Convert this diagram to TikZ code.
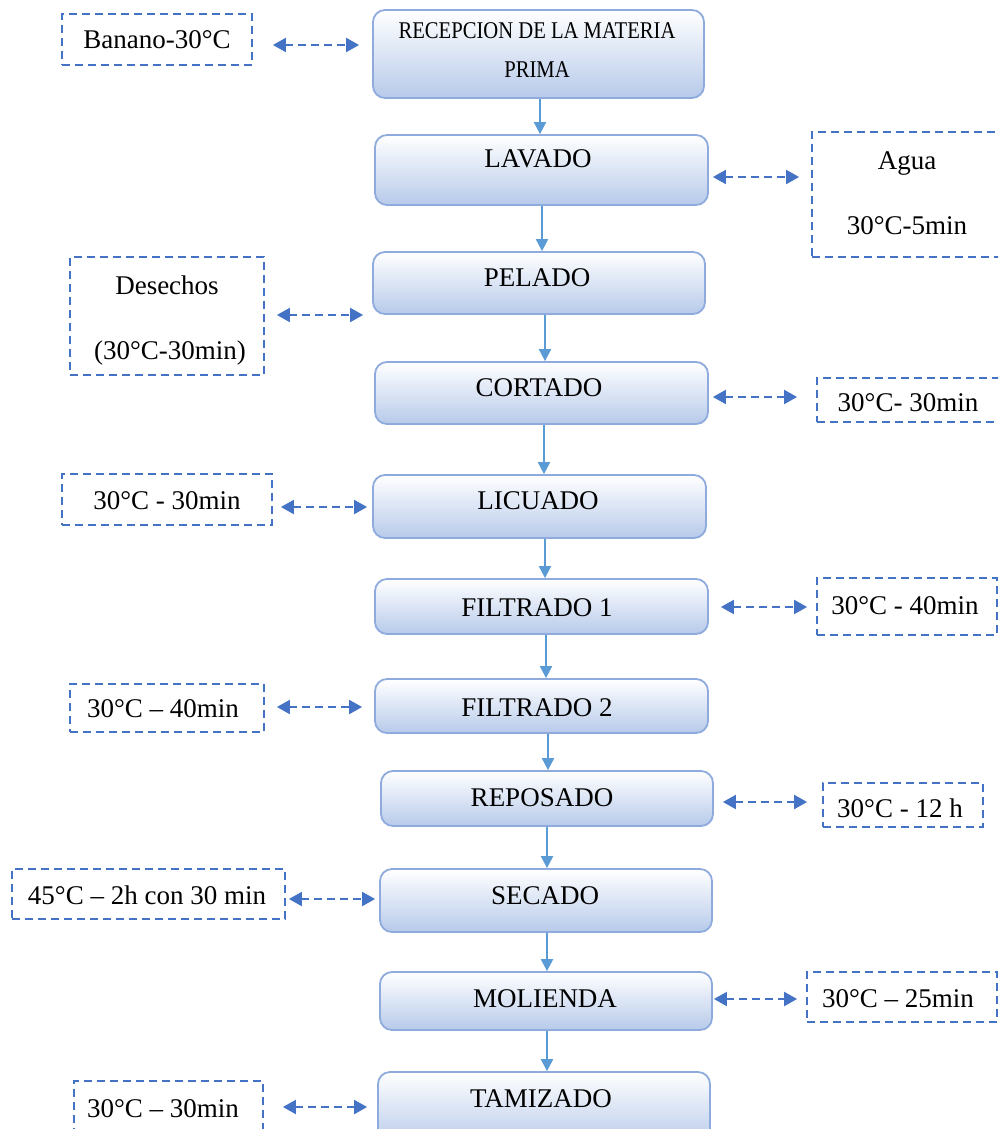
\documentclass[tikz,border=0pt]{standalone}
\usepackage{fontspec}
\setmainfont{Liberation Serif}
\usetikzlibrary{arrows.meta}
\definecolor{boxbot}{RGB}{183,202,234}
\definecolor{boxborder}{RGB}{143,170,220}
\definecolor{dashblue}{RGB}{68,114,196}
\definecolor{flowblue}{RGB}{91,155,213}
\newcommand\mkproc[5]{\node[proc, minimum width={#4-#2}, minimum height={#5-#3}] (#1) at ({(#2+#4)/2},{(#3+#5)/2}) {};}
\newcommand\mkside[5]{\node[sidebox, minimum width={#4-#2}, minimum height={#5-#3}] (#1) at ({(#2+#4)/2},{(#3+#5)/2}) {};}
\newcommand\mktext[4]{\node[lbl] (#1) at (#2,{#3+9}) {#4};}
\begin{document}
\begin{tikzpicture}[x=1pt,y=-1pt,
  proc/.style={draw=boxborder, line width=1.8pt, rounded corners=12pt, top color=white, bottom color=boxbot, inner sep=0pt},
  sidebox/.style={draw=dashblue, line width=1.8pt, dash pattern=on 8pt off 5pt, fill=white, inner sep=0pt},
  lbl/.style={anchor=base, inner sep=0pt, font=\fontsize{27}{30}\selectfont},
  smalllbl/.style={anchor=base, inner sep=0pt, font=\fontsize{24}{28}\selectfont},
  flow/.style={draw=flowblue, line width=2pt, -{Triangle[length=12pt,width=12pt]}},
  dbl/.style={draw=dashblue, line width=2pt, dash pattern=on 8pt off 5pt, {Triangle[length=13pt,width=14pt]}-{Triangle[length=13pt,width=14pt]}}]
\useasboundingbox (0,0) rectangle (998,1129);
\clip (0,0) rectangle (998,1129);
\fill[white] (0,0) rectangle (998,1129);

% process boxes
\mkproc{p1}{373}{10}{704}{98}
\mkproc{p2}{375}{135}{708}{205}
\mkproc{p3}{373}{252}{705}{314}
\mkproc{p4}{375}{362}{708}{424}
\mkproc{p5}{373}{475}{706}{538}
\mkproc{p6}{375}{579}{708}{634}
\mkproc{p7}{375}{679}{708}{733}
\mkproc{p8}{381}{771}{713}{826}
\mkproc{p9}{380}{869}{712}{932}
\mkproc{p10}{380}{972}{712}{1030}
\mkproc{p11}{378}{1072}{710}{1145}

% side boxes
\mkside{s1}{62}{14}{252}{65}
\mkside{s2}{812}{132}{1010}{257}
\mkside{s3}{70}{257}{264}{375}
\mkside{s4}{817}{378}{1010}{422}
\mkside{s5}{62}{474}{272}{525}
\mkside{s6}{817}{578}{997}{635}
\mkside{s7}{70}{684}{264}{732}
\mkside{s8}{823}{783}{983}{827}
\mkside{s9}{12}{869}{285}{919}
\mkside{s10}{807}{972}{997}{1022}
\mkside{s11}{74}{1081}{263}{1150}

% process texts
\node[smalllbl] (t1a) at (537,{31+8}) {\scalebox{0.86}[1]{RECEPCION DE LA MATERIA}};
\node[smalllbl] (t1b) at (537,{70+8}) {\scalebox{0.86}[1]{PRIMA}};
\mktext{t2}{538}{158}{LAVADO}
\mktext{t3}{537}{277}{PELADO}
\mktext{t4}{539}{387}{CORTADO}
\mktext{t5}{538}{500}{LICUADO}
\mktext{t6}{537}{607}{FILTRADO 1}
\mktext{t7}{537}{707}{FILTRADO 2}
\mktext{t8}{542}{797}{REPOSADO}
\mktext{t9}{545}{895}{SECADO}
\mktext{t10}{545}{998}{MOLIENDA}
\mktext{t11}{541}{1098}{TAMIZADO}

% side texts
\mktext{u1}{157}{40}{Banano-30°C}
\mktext{u2a}{907}{160}{Agua}
\mktext{u2b}{907}{225}{30°C-5min}
\mktext{u3a}{167}{285}{Desechos}
\mktext{u3b}{170}{350}{(30°C-30min)}
\mktext{u4}{908}{402}{30°C- 30min}
\mktext{u5}{167}{500}{30°C - 30min}
\mktext{u6}{905}{605}{30°C - 40min}
\mktext{u7}{163}{708}{30°C – 40min}
\mktext{u8}{900}{808}{30°C - 12 h}
\mktext{u9}{147}{895}{45°C – 2h con 30 min}
\mktext{u10}{898}{998}{30°C – 25min}
\mktext{u11}{163}{1108}{30°C – 30min}

% flow arrows
\draw[flow] (p1.south -| 540,0) -- (p2.north -| 540,0);
\draw[flow] (p2.south -| 542,0) -- (p3.north -| 542,0);
\draw[flow] (p3.south -| 545,0) -- (p4.north -| 545,0);
\draw[flow] (p4.south -| 544,0) -- (p5.north -| 544,0);
\draw[flow] (p5.south -| 545,0) -- (p6.north -| 545,0);
\draw[flow] (p6.south -| 546,0) -- (p7.north -| 546,0);
\draw[flow] (p7.south -| 548,0) -- (p8.north -| 548,0);
\draw[flow] (p8.south -| 547,0) -- (p9.north -| 547,0);
\draw[flow] (p9.south -| 547,0) -- (p10.north -| 547,0);
\draw[flow] (p10.south -| 547,0) -- (p11.north -| 547,0);

% dashed double arrows
\draw[dbl, shorten <=20pt, shorten >=13pt] (s1.east |- 0,45) -- (p1.west |- 0,45);
\draw[dbl, shorten <=4pt, shorten >=12pt] (p2.east |- 0,177) -- (s2.west |- 0,177);
\draw[dbl, shorten <=12pt, shorten >=9pt] (s3.east |- 0,315) -- (p3.west |- 0,315);
\draw[dbl, shorten <=4pt, shorten >=19pt] (p4.east |- 0,397) -- (s4.west |- 0,397);
\draw[dbl, shorten <=8pt, shorten >=5pt] (s5.east |- 0,507) -- (p5.west |- 0,507);
\draw[dbl, shorten <=12pt, shorten >=9pt] (p6.east |- 0,607) -- (s6.west |- 0,607);
\draw[dbl, shorten <=12pt, shorten >=12pt] (s7.east |- 0,707) -- (p7.west |- 0,707);
\draw[dbl, shorten <=9pt, shorten >=15pt] (p8.east |- 0,802) -- (s8.west |- 0,802);
\draw[dbl, shorten <=3pt, shorten >=4pt] (s9.east |- 0,899) -- (p9.west |- 0,899);
\draw[dbl, shorten <=1pt, shorten >=9pt] (p10.east |- 0,999) -- (s10.west |- 0,999);
\draw[dbl, shorten <=19pt, shorten >=10pt] (s11.east |- 0,1107) -- (p11.west |- 0,1107);
\end{tikzpicture}
\end{document}
